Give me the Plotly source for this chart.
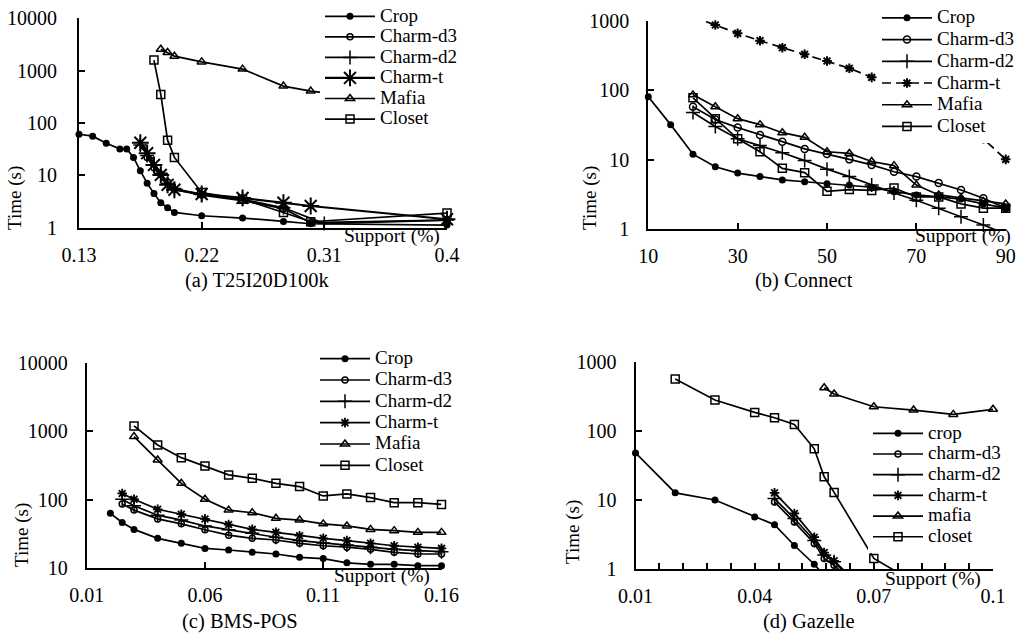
import plotly.graph_objects as go

FONT = "Liberation Serif, Times New Roman, Times, serif"
W, H = 1021, 633

# ---------------- (a) T25I20D100k ----------------
a_crop_x = [0.13, 0.14, 0.15, 0.16, 0.165, 0.17, 0.175, 0.18, 0.185, 0.19, 0.195, 0.2, 0.22, 0.25, 0.28, 0.3, 0.4]
a_crop_y = [61, 56, 41, 32, 32, 22, 12.2, 7.1, 4.5, 3.0, 2.4, 1.96, 1.69, 1.53, 1.32, 1.19, 1.12]
a_d3_x = [0.18, 0.185, 0.19, 0.195, 0.2, 0.22, 0.25, 0.28, 0.3, 0.4]
a_d3_y = [22, 14, 10.5, 7.5, 5.4, 4.2, 3.3, 2.3, 1.25, 1.4]
a_d2_x = [0.175, 0.18, 0.185, 0.19, 0.195, 0.2, 0.22, 0.25, 0.28, 0.31, 0.4]
a_d2_y = [38, 24, 16, 11, 7, 5.6, 4.3, 3.5, 2.4, 1.2, 1.4]
a_t_x = [0.175, 0.18, 0.185, 0.19, 0.195, 0.2, 0.22, 0.25, 0.28, 0.3, 0.4]
a_t_y = [42, 26.5, 15.8, 10.2, 6.6, 5.3, 4.4, 3.7, 3.0, 2.6, 1.45]
a_mafia_x = [0.19, 0.195, 0.2, 0.22, 0.25, 0.28, 0.3, 0.4]
a_mafia_y = [2570, 2220, 1890, 1470, 1070, 507, 407, 200]
a_closet_x = [0.185, 0.19, 0.195, 0.2, 0.22, 0.25, 0.28, 0.3, 0.4]
a_closet_y = [1590, 352, 47, 22, 4.7, 3.5, 1.95, 1.3, 1.9]

# ---------------- (b) Connect ----------------
b_crop_x = [10, 15, 20, 25, 30, 35, 40, 45, 50, 55, 60, 65, 70, 75, 80, 85, 90]
b_crop_y = [81, 32, 12, 7.9, 6.4, 5.7, 5.1, 4.8, 4.5, 4.3, 4.0, 3.45, 3.1, 2.9, 2.7, 2.3, 2.0]
b_x = [20, 25, 30, 35, 40, 45, 50, 55, 60, 65, 70, 75, 80, 85, 90]
b_d3_y = [58, 38, 29, 22.7, 18.2, 14.3, 12.1, 10.1, 8.4, 6.7, 5.7, 4.6, 3.65, 2.77, 2.0]
b_d2_y = [48, 30, 20, 16, 12.6, 9.7, 7.3, 5.7, 4.3, 3.3, 2.6, 2.0, 1.5, 1.14, 0.85]
b_t_y = [1150, 876, 664, 520, 412, 331, 265, 208, 154, 115, 82, 55, 34, 20, 10.1]
b_mafia_y = [86, 58, 39, 32, 24.5, 21, 13, 12.3, 9.4, 8.2, 4.3, 3.1, 2.8, 2.5, 2.3]
b_closet_y = [78, 39, 20, 13, 7.5, 6.5, 3.5, 3.7, 3.6, 3.9, 2.9, 2.9, 2.3, 2.0, 2.0]

# ---------------- (c) BMS-POS ----------------
c_crop_x = [0.02, 0.025, 0.03, 0.04, 0.05, 0.06, 0.07, 0.08, 0.09, 0.1, 0.11, 0.12, 0.13, 0.14, 0.15, 0.16]
c_crop_y = [62.8, 46, 36.5, 27, 22.8, 19.2, 18.2, 16.8, 15.9, 14.2, 13.6, 11.8, 11.2, 11.2, 10.7, 10.7]
c_x = [0.025, 0.03, 0.04, 0.05, 0.06, 0.07, 0.08, 0.09, 0.1, 0.11, 0.12, 0.13, 0.14, 0.15, 0.16]
c_d3_y = [86, 70, 52, 44, 36, 30, 27, 25.5, 22.8, 21, 20, 18.6, 16.8, 15.9, 15.9]
c_d2_y = [101, 81, 59, 50, 41, 36, 32, 28, 25, 23, 21.5, 20, 18.6, 17.8, 17.2]
c_t_y = [123, 101, 72, 61, 52, 43, 36.5, 33, 29.5, 27, 25, 22.8, 21, 20, 19.2]
c_x2 = [0.03, 0.04, 0.05, 0.06, 0.07, 0.08, 0.09, 0.1, 0.11, 0.12, 0.13, 0.14, 0.15, 0.16]
c_mafia_y = [840, 381, 173, 101, 70, 64, 53, 50, 44, 41, 36.5, 35, 33, 33]
c_closet_y = [1203, 633, 412, 311, 230, 205, 173, 155, 113, 121, 107, 90, 90, 85]

# ---------------- (d) Gazelle ----------------
d_crop_x = [0.01, 0.02, 0.03, 0.04, 0.045, 0.05, 0.055, 0.06]
d_crop_y = [48, 12.7, 10, 5.7, 4.4, 2.2, 1.18, 0.55]
d_x = [0.045, 0.05, 0.055, 0.0575, 0.06, 0.065]
d_d3_y = [9.4, 4.8, 2.35, 1.43, 1.14, 0.6]
d_d2_y = [10.5, 5.4, 2.6, 1.6, 1.28, 0.65]
d_t_y = [12.7, 6.4, 2.9, 1.74, 1.32, 0.7]
d_mafia_x = [0.0575, 0.06, 0.07, 0.08, 0.09, 0.1]
d_mafia_y = [421, 341, 223, 200, 173, 205]
d_closet_x = [0.02, 0.03, 0.04, 0.045, 0.05, 0.055, 0.0575, 0.06, 0.07, 0.08]
d_closet_y = [562, 279, 185, 155, 124, 55, 21.7, 12.9, 1.43, 0.66]

names_cap = ["Crop", "Charm-d3", "Charm-d2", "Charm-t", "Mafia", "Closet"]
names_low = ["crop", "charm-d3", "charm-d2", "charm-t", "mafia", "closet"]

fig = go.Figure()


def add(name, x, y, sym, size, xa, ya, leg, lw=1.7, dash="solid", mlw=1.5):
    fig.add_trace(go.Scatter(
        x=x, y=y, mode="lines+markers",
        name='<span style="font-size:19px">%s</span>' % name,
        line=dict(color="black", width=lw, dash=dash),
        marker=dict(symbol=sym, size=size, color="black",
                    line=dict(color="black", width=mlw)),
        xaxis=xa, yaxis=ya, legend=leg, cliponaxis=False,
    ))


# (a)
add(names_cap[0], a_crop_x, a_crop_y, "circle", 7, "x", "y", "legend", mlw=0)
add(names_cap[1], a_d3_x, a_d3_y, "circle-open", 6, "x", "y", "legend")
add(names_cap[2], a_d2_x, a_d2_y, "cross-thin-open", 10, "x", "y", "legend")
add(names_cap[3], a_t_x, a_t_y, "asterisk-open", 14, "x", "y", "legend", lw=2.2, mlw=2)
add(names_cap[4], a_mafia_x, a_mafia_y, "triangle-up-open", 8, "x", "y", "legend")
add(names_cap[5], a_closet_x, a_closet_y, "square-open", 8, "x", "y", "legend")
# (b)
add(names_cap[0], b_crop_x, b_crop_y, "circle", 7, "x2", "y2", "legend2", mlw=0)
add(names_cap[1], b_x, b_d3_y, "circle-open", 7, "x2", "y2", "legend2")
add(names_cap[2], b_x, b_d2_y, "cross-thin-open", 10, "x2", "y2", "legend2")
add(names_cap[3], b_x, b_t_y, "asterisk-open", 8, "x2", "y2", "legend2", dash="9px,5px", mlw=2)
add(names_cap[4], b_x, b_mafia_y, "triangle-up-open", 8, "x2", "y2", "legend2")
add(names_cap[5], b_x, b_closet_y, "square-open", 8, "x2", "y2", "legend2")
# (c)
add(names_cap[0], c_crop_x, c_crop_y, "circle", 7, "x3", "y3", "legend3", mlw=0)
add(names_cap[1], c_x, c_d3_y, "circle-open", 6, "x3", "y3", "legend3")
add(names_cap[2], c_x, c_d2_y, "cross-thin-open", 10, "x3", "y3", "legend3")
add(names_cap[3], c_x, c_t_y, "asterisk-open", 8, "x3", "y3", "legend3", mlw=1.8)
add(names_cap[4], c_x2, c_mafia_y, "triangle-up-open", 8, "x3", "y3", "legend3")
add(names_cap[5], c_x2, c_closet_y, "square-open", 8, "x3", "y3", "legend3")
# (d)
add(names_low[0], d_crop_x, d_crop_y, "circle", 7, "x4", "y4", "legend4", mlw=0)
add(names_low[1], d_x, d_d3_y, "circle-open", 6, "x4", "y4", "legend4")
add(names_low[2], d_x, d_d2_y, "cross-thin-open", 10, "x4", "y4", "legend4")
add(names_low[3], d_x, d_t_y, "asterisk-open", 8, "x4", "y4", "legend4", mlw=1.8)
add(names_low[4], d_mafia_x, d_mafia_y, "triangle-up-open", 8, "x4", "y4", "legend4")
add(names_low[5], d_closet_x, d_closet_y, "square-open", 8, "x4", "y4", "legend4")


def px_x(p):
    return p / W


def px_y(p):
    return 1 - p / H


tickfont = dict(family=FONT, size=20, color="black")


def xaxis(dom, rng, vals, texts, anchor):
    return dict(domain=[px_x(dom[0]), px_x(dom[1])], range=rng, anchor=anchor,
                tickvals=vals, ticktext=texts, ticks="inside", ticklen=6,
                tickwidth=1.6, tickcolor="black", showline=True, linecolor="black",
                linewidth=2, showgrid=False, zeroline=False, tickfont=tickfont,
                ticklabelstandoff=8, layer="above traces")


def yaxis(dom, rng, vals, anchor, standoff=13):
    return dict(type="log", domain=[px_y(dom[1]), px_y(dom[0])], range=rng, anchor=anchor,
                tickvals=vals, ticktext=[str(v) for v in vals], ticks="inside", ticklen=6,
                tickwidth=1.6, tickcolor="black", showline=True, linecolor="black",
                linewidth=2, showgrid=False, zeroline=False, tickfont=tickfont,
                ticklabelstandoff=standoff, layer="above traces")


d_ticks = [round(0.01 + 0.006 * i, 3) for i in range(16)]
d_text = [("0.1" if abs(v - 0.1) < 1e-9 else ("%g" % v)) if i % 5 == 0 else "" for i, v in enumerate(d_ticks)]

layout = dict(
    width=W, height=H, margin=dict(l=0, r=0, t=0, b=0, autoexpand=False),
    paper_bgcolor="white", plot_bgcolor="rgba(0,0,0,0)", showlegend=True,
    font=dict(family=FONT, color="black"),
    xaxis=xaxis((79, 447), [0.13, 0.4], [0.13, 0.22, 0.31, 0.4], ["0.13", "0.22", "0.31", "0.4"], "y"),
    yaxis=yaxis((18.3, 227.7), [0, 4], [1, 10, 100, 1000, 10000], "x", standoff=16),
    xaxis2=xaxis((648.3, 1005.7), [10, 90], [10, 30, 50, 70, 90], ["10", "30", "50", "70", "90"], "y2"),
    yaxis2=yaxis((21, 229), [0, 3], [1, 10, 100, 1000], "x2"),
    xaxis3=xaxis((86.7, 441.5), [0.01, 0.16], [0.01, 0.06, 0.11, 0.16], ["0.01", "0.06", "0.11", "0.16"], "y3"),
    yaxis3=yaxis((363.3, 567.7), [1, 4], [10, 100, 1000, 10000], "x3"),
    xaxis4=xaxis((635.5, 993), [0.01, 0.1], d_ticks, d_text, "y4"),
    yaxis4=yaxis((361.7, 569.2), [0, 3], [1, 10, 100, 1000], "x4"),
)


def legend(left, top, fs):
    return dict(x=px_x(left), y=px_y(top), xanchor="left", yanchor="top",
                bgcolor="white", borderwidth=0, itemwidth=50, tracegroupgap=0,
                font=dict(family=FONT, size=fs, color="black"))


layout["legend"] = legend(320, 1, 13.5)
layout["legend2"] = legend(877, 2, 14.4)
layout["legend3"] = legend(315, 343, 14.1)
layout["legend4"] = legend(868, 418, 13.6)

ann = []


def text(x, y, s, size=19, angle=0):
    ann.append(dict(x=px_x(x), y=px_y(y), xref="paper", yref="paper", text=s,
                    showarrow=False, xanchor="center", yanchor="middle", textangle=angle,
                    font=dict(family=FONT, size=size, color="black")))


text(15, 198, "Time (s)", 19, -90)
text(590, 198, "Time (s)", 19, -90)
text(22, 535, "Time (s)", 19, -90)
text(573, 532, "Time (s)", 19, -90)
text(392, 236, "Support (%)", 19.5)
text(963, 236, "Support (%)", 19.5)
text(382, 576, "Support (%)", 19.5)
text(933, 579, "Support (%)", 19.5)
text(257, 280, "(a) T25I20D100k", 20.5)
text(804, 280, "(b) Connect", 20.5)
text(240, 621, "(c) BMS-POS", 20.5)
text(809, 621, "(d) Gazelle", 20.5)
layout["annotations"] = ann

fig.update_layout(**layout)
fig.write_html("out.html", config={"displayModeBar": False},
               post_script="document.body.style.margin='0';document.body.style.overflow='hidden';")
